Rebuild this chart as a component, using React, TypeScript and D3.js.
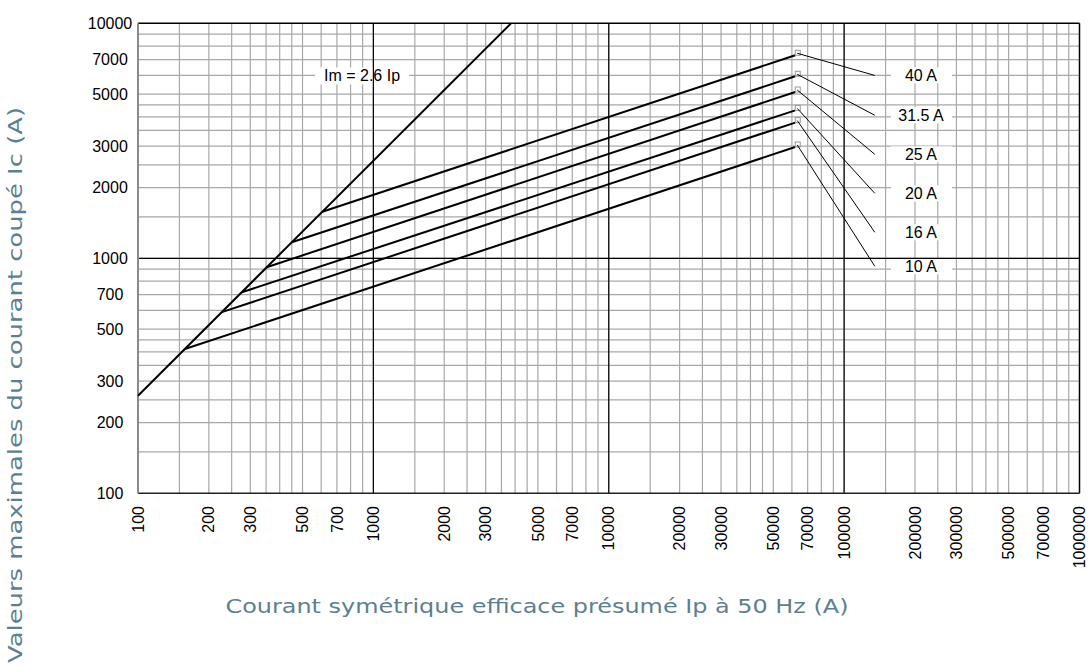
import React from "react";
import * as d3 from "d3";

// tick labels
const xTickValues = [100, 200, 300, 500, 700, 1000, 2000, 3000, 5000, 7000, 10000, 20000, 30000, 50000, 70000, 100000, 200000, 300000, 500000, 700000, 1000000];
const yTickValues = [100, 200, 300, 500, 700, 1000, 2000, 3000, 5000, 7000, 10000];
const gridSteps = [1, 1.5, 2, 2.5, 3, 3.5, 4, 4.5, 5, 6, 7, 8, 9];
const xDecades = [100, 1000, 10000, 100000];
const yDecades = [100, 1000];

// Im = 2.6 Ip limit line
const imLine: [number, number][] = [[100, 260], [3846, 10000]];
const imLabel = { ip: 895, ic: 6000, text: "Im = 2.6 Ip" };

// fuse curves
const fuseNames = ["10 A", "16 A", "20 A", "25 A", "31.5 A", "40 A"];
const fuseStartIp = [157, 227, 276, 352, 450, 607];
const fuseStartIc = [410, 590, 717, 916, 1170, 1578];
const fuseEndIp = 62000;
const fuseEndIc = [2976, 3780, 4260, 5100, 5950, 7310];
const labelIc = [925, 1290, 1890, 2770, 4060, 6000];
const leaderIp = 135000;
const labelIp = 212000;

export default function App() {
  const width = 1088;
  const height = 667;

  const x = d3.scaleLog().domain([100, 1e6]).range([138, 1079.5]);
  const y = d3.scaleLog().domain([100, 10000]).range([493.3, 23.3]);

  const xGrid = xDecades.flatMap(d => gridSteps.map(s => d * s)).filter(v => v > 100);
  const yGrid = yDecades.flatMap(d => gridSteps.map(s => d * s)).filter(v => v > 100);

  const line = d3.line<[number, number]>()
    .x(d => x(d[0]))
    .y(d => y(d[1]));

  const [x0, x1] = x.range();
  const [y0, y1] = y.range();

  const tickFont = "'Liberation Sans', Arial, sans-serif";
  const titleFont = "'DejaVu Sans', sans-serif";
  const titleColor = "#5c7f91";

  return (
    <svg width={width} height={height} style={{ position: "absolute", left: 0, top: 0, background: "#fff" }}>
      {/* light grid */}
      <g stroke="#a8a8a8" strokeWidth={1.2}>
        {xGrid.map(v => (
          <line key={"gx" + v} x1={x(v)} x2={x(v)} y1={y1} y2={y0} />
        ))}
        {yGrid.map(v => (
          <line key={"gy" + v} x1={x0} x2={x1} y1={y(v)} y2={y(v)} />
        ))}
      </g>

      {/* white boxes behind labels */}
      <g fill="#fff">
        <rect x={x(imLabel.ip) - 47} y={y(imLabel.ic) - 8} width={94} height={17} />
        {fuseNames.map((n, i) => (
          <rect key={n} x={x(labelIp) - 30} y={y(labelIc[i]) - 8} width={61} height={16} />
        ))}
      </g>

      {/* decade lines */}
      <g stroke="#000" strokeWidth={1.2}>
        {[1000, 10000, 100000].map(v => (
          <line key={"dx" + v} x1={x(v)} x2={x(v)} y1={y1} y2={y0} />
        ))}
        <line x1={x0} x2={x1} y1={y(1000)} y2={y(1000)} />
      </g>

      {/* frame */}
      <line x1={x0} x2={x1} y1={y1} y2={y1} stroke="#000" strokeWidth={1.5} />
      <line x1={x1} x2={x1} y1={y1} y2={y0} stroke="#000" strokeWidth={1.5} />
      <line x1={x0} x2={x1} y1={y0} y2={y0} stroke="#222" strokeWidth={1.5} />
      <line x1={x0} x2={x0} y1={y1} y2={y0} stroke="#8a8a8a" strokeWidth={2} />

      {/* Im line */}
      <path d={line(imLine) ?? ""} fill="none" stroke="#000" strokeWidth={2} />

      {/* fuse lines */}
      <g fill="none" stroke="#000" strokeWidth={2}>
        {fuseNames.map((n, i) => (
          <path key={n} d={line([[fuseStartIp[i], fuseStartIc[i]], [fuseEndIp, fuseEndIc[i]]]) ?? ""} />
        ))}
      </g>

      {/* end markers and leaders */}
      {fuseNames.map((n, i) => {
        const ex = x(fuseEndIp);
        const ey = y(fuseEndIc[i]);
        return (
          <g key={n}>
            <rect x={ex} y={ey - 5} width={5} height={5} fill="none" stroke="#999" strokeWidth={1} />
            <line x1={ex + 2} y1={ey - 2} x2={x(leaderIp)} y2={y(labelIc[i])} stroke="#000" strokeWidth={1} />
          </g>
        );
      })}

      {/* labels */}
      <g fontFamily={tickFont} fontSize={16} fill="#000">
        <text x={x(imLabel.ip)} y={y(imLabel.ic)} dy="0.35em" textAnchor="middle">{imLabel.text}</text>
        {fuseNames.map((n, i) => (
          <text key={n} x={x(labelIp)} y={y(labelIc[i])} dy="0.35em" textAnchor="middle">{n}</text>
        ))}
      </g>

      {/* y tick labels */}
      <g fontFamily={tickFont} fontSize={16} fill="#000" textAnchor="middle">
        {yTickValues.map(v => (
          <text key={v} x={110} y={y(v)} dy="0.35em">{v}</text>
        ))}
      </g>

      {/* x tick labels */}
      <g fontFamily={tickFont} fontSize={16} fill="#000" textAnchor="end">
        {xTickValues.map(v => (
          <text key={v} transform={`translate(${x(v)},506) rotate(-90)`} dy="0.35em">{v}</text>
        ))}
      </g>

      {/* axis titles */}
      <text x={537} y={613} textAnchor="middle" fontFamily={titleFont} fontSize={20} fill={titleColor}
        textLength={623} lengthAdjust="spacingAndGlyphs">
        Courant symétrique efficace présumé Ip à 50 Hz (A)
      </text>
      <text transform="translate(22,385) rotate(-90)" textAnchor="middle" fontFamily={titleFont} fontSize={20} fill={titleColor}
        textLength={556} lengthAdjust="spacingAndGlyphs">
        Valeurs maximales du courant coupé Ic (A)
      </text>
    </svg>
  );
}
